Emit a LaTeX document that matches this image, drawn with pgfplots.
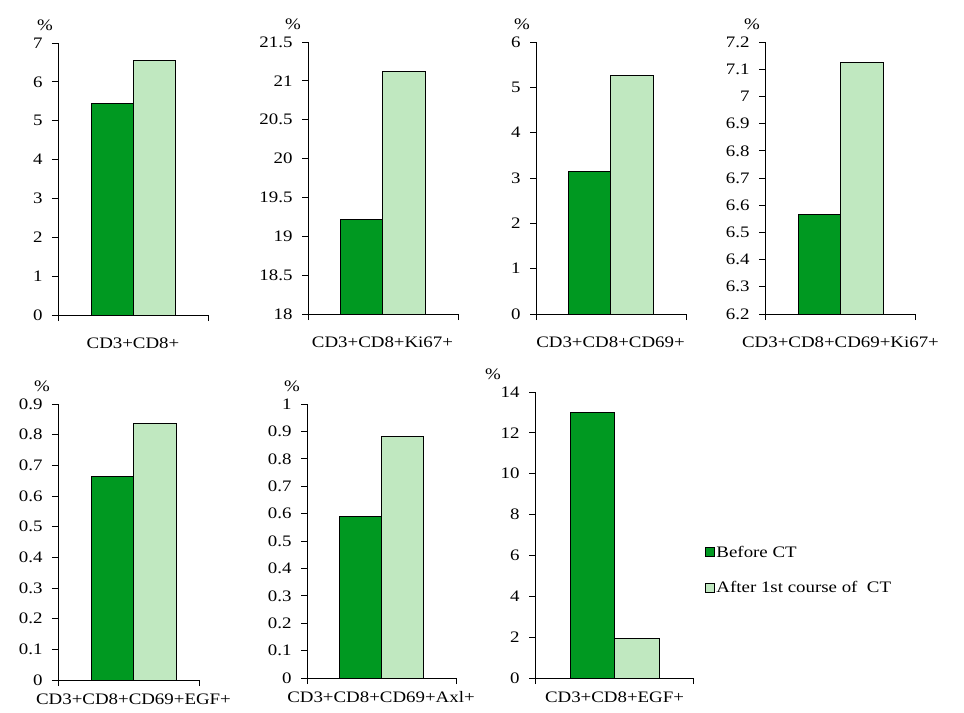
\documentclass[border=0pt]{standalone}
\usepackage{fontspec}
\setmainfont{Liberation Serif}[FakeStretch=1.18]
\usepackage{pgfplots}
\pgfplotsset{compat=1.18}
\definecolor{dk}{RGB}{0,153,33}
\definecolor{lt}{RGB}{192,232,192}
\pgfplotsset{
  panel/.style={
    scale only axis,
    axis x line*=bottom, axis y line*=left,
    axis line style={-, black, line width=0.8pt},
    tick align=outside, major tick length=6bp,
    tick style={black, line width=0.8pt},
    xticklabels={},
    ybar, bar width=1, bar shift=0pt,
    ylabel={\%},
    every axis y label/.style={at={(axis description cs:0,1)}, anchor=center, yshift=18bp},
    /pgf/number format/assume math mode=true,
    font=\fontsize{16bp}{19bp}\selectfont,
    yticklabel style={xshift=-6bp},
    extra x tick style={major tick length=0pt},
  },
  dkbar/.style={fill=dk, draw=black, line width=0.8pt},
  ltbar/.style={fill=lt, draw=black, line width=0.8pt},
}
\begin{document}
\begin{tikzpicture}
\useasboundingbox (0,0) rectangle (964bp,-713bp);
% Panel 1
\begin{axis}[panel, at={(58bp,-315bp)}, anchor=south west, width=150bp, height=272bp,
  xmin=-1.786, xmax=1.786, xtick={-1.786,1.786}, extra x ticks={0}, extra x tick labels={CD3+CD8+},
  extra x tick style={tick label style={yshift=-19bp}},
  ymin=0, ymax=7, ytick={0,1,...,7},
  ylabel style={xshift=-13bp}]
\addplot[dkbar] coordinates {(-0.5,5.45)};
\addplot[ltbar] coordinates {(0.5,6.55)};
\end{axis}
% Panel 2
\begin{axis}[panel, at={(308bp,-314bp)}, anchor=south west, width=150bp, height=272bp,
  xmin=-1.753, xmax=1.776, xtick={-1.753,1.776}, extra x ticks={0}, extra x tick labels={CD3+CD8+Ki67+},
  extra x tick style={tick label style={yshift=-19bp}},
  ymin=18, ymax=21.5, ytick={18,18.5,19,19.5,20,20.5,21,21.5},
  ylabel style={xshift=-15bp}]
\addplot[dkbar] coordinates {(-0.5,19.22)};
\addplot[ltbar] coordinates {(0.5,21.12)};
\end{axis}
% Panel 3
\begin{axis}[panel, at={(536bp,-314bp)}, anchor=south west, width=150bp, height=272bp,
  xmin=-1.753, xmax=1.776, xtick={-1.753,1.776}, extra x ticks={0}, extra x tick labels={CD3+CD8+CD69+},
  extra x tick style={tick label style={yshift=-19bp}},
  ymin=0, ymax=6, ytick={0,1,...,6},
  ylabel style={xshift=-14bp}]
\addplot[dkbar] coordinates {(-0.5,3.14)};
\addplot[ltbar] coordinates {(0.5,5.27)};
\end{axis}
% Panel 4
\begin{axis}[panel, at={(765bp,-314bp)}, anchor=south west, width=150bp, height=272bp,
  xmin=-1.776, xmax=1.753, xtick={-1.776,1.753}, extra x ticks={0}, extra x tick labels={CD3+CD8+CD69+Ki67+},
  extra x tick style={tick label style={yshift=-19bp}},
  ymin=6.2, ymax=7.2, ytick={6.2,6.3,6.4,6.5,6.6,6.7,6.8,6.9,7,7.1,7.2},
  ylabel style={xshift=-13bp}]
\addplot[dkbar] coordinates {(-0.5,6.565)};
\addplot[ltbar] coordinates {(0.5,7.125)};
\end{axis}
% Panel 5
\begin{axis}[panel, at={(58bp,-680bp)}, anchor=south west, width=141bp, height=276bp,
  xmin=-1.776, xmax=1.541, xtick={-1.776,1.541}, extra x ticks={0}, extra x tick labels={CD3+CD8+CD69+EGF+},
  extra x tick style={tick label style={yshift=-10bp}},
  ymin=0, ymax=0.9, ytick={0,0.1,0.2,0.3,0.4,0.5,0.6,0.7,0.8,0.9},
  ylabel style={xshift=-16bp}]
\addplot[dkbar] coordinates {(-0.5,0.665)};
\addplot[ltbar] coordinates {(0.5,0.837)};
\end{axis}
% Panel 6
\begin{axis}[panel, at={(307bp,-678bp)}, anchor=south west, width=149bp, height=274bp,
  xmin=-1.762, xmax=1.786, xtick={-1.762,1.786}, extra x ticks={0}, extra x tick labels={CD3+CD8+CD69+Axl+},
  extra x tick style={tick label style={yshift=-10bp}},
  ymin=0, ymax=1, ytick={0,0.1,0.2,0.3,0.4,0.5,0.6,0.7,0.8,0.9,1},
  ylabel style={xshift=-15bp}]
\addplot[dkbar] coordinates {(-0.5,0.588)};
\addplot[ltbar] coordinates {(0.5,0.882)};
\end{axis}
% Panel 7
\begin{axis}[panel, at={(535bp,-678bp)}, anchor=south west, width=158bp, height=286bp,
  xmin=-1.787, xmax=1.764, xtick={-1.787,1.764}, extra x ticks={0}, extra x tick labels={CD3+CD8+EGF+},
  extra x tick style={tick label style={yshift=-10bp}},
  ymin=0, ymax=14, ytick={0,2,...,14},
  ylabel style={xshift=-42bp},
  legend style={at={(rel axis cs:1.057,0.475)}, anchor=north west, draw=none, fill=none,
    row sep=20bp, nodes={inner sep=1.5bp}, font=\fontsize{16bp}{19bp}\selectfont},
  legend cell align=left,
  legend image code/.code={\draw[#1] (0bp,-4.5bp) rectangle (9bp,4.5bp);}]
\addplot[dkbar] coordinates {(-0.5,13.0)};
\addlegendentry{Before CT}
\addplot[ltbar] coordinates {(0.5,1.92)};
\addlegendentry{After 1st course of\ \ CT}
\end{axis}
\end{tikzpicture}
\end{document}
